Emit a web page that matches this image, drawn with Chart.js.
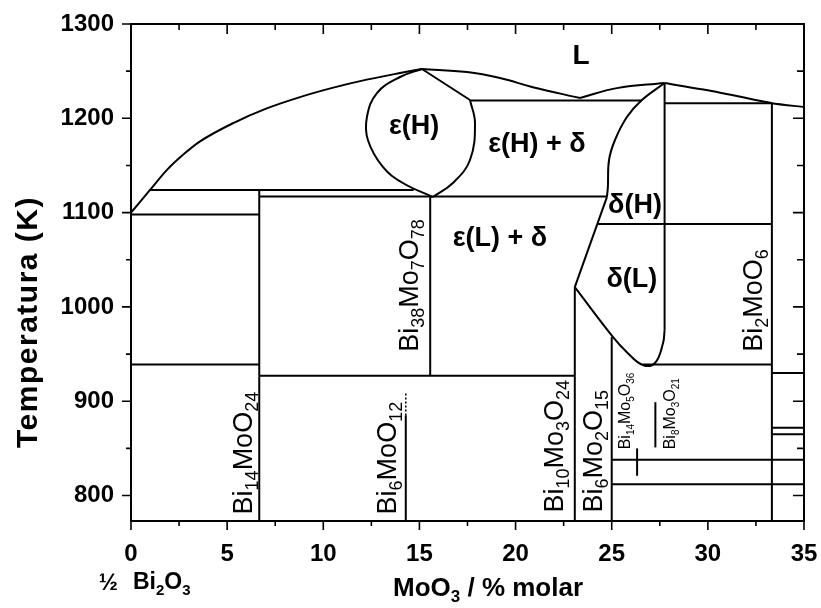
<!DOCTYPE html>
<html>
<head>
<meta charset="utf-8">
<title>Diagrama de fases Bi2O3 - MoO3</title>
<script src="https://cdn.jsdelivr.net/npm/chart.js@4.4.1/dist/chart.umd.min.js"></script>
<style>
  html, body { margin: 0; padding: 0; background: #fff; }
</style>
</head>
<body>
<canvas id="phase" width="821" height="608"></canvas>
<script>
// axis ticks
const xTicks = [0, 5, 10, 15, 20, 25, 30, 35];
const xMinor = [2.5, 7.5, 12.5, 17.5, 22.5, 27.5, 32.5];
const yTicks = [800, 900, 1000, 1100, 1200, 1300];
const yMinor = [850, 950, 1050, 1150, 1250];

// liquidus (x = % MoO3, y = K)
const liquidusLeft = [[0, 1100], [0.99, 1124], [1.86, 1145], [2.72, 1161.5], [3.59, 1175.5], [5.32, 1195], [7.06, 1210.5], [8.79, 1222.5], [10.52, 1232.5], [12.26, 1241], [13.99, 1248], [15.13, 1252.3]];
const liquidusMid = [[15.13, 1252.3], [17.47, 1249], [19.19, 1242.7], [20.9, 1233], [23.35, 1221.5]];
const liquidusRise = [[23.35, 1221.5], [25.27, 1232], [27.75, 1237.4]];
const liquidusFall = [[27.75, 1237.4], [30.47, 1228], [33.33, 1216], [35, 1212]];

// epsilon(H) field
const epsLeft = [[15.13, 1252.3], [13.99, 1243.8], [12.79, 1226.8], [12.27, 1201.4], [12.32, 1177], [13.1, 1148.4], [14.14, 1131.4], [15.7, 1116.5]];
const epsRightTop = [[15.13, 1252.3], [17.63, 1219.4]];
const epsRight = [[17.63, 1219.4], [17.89, 1195], [17.63, 1155.8], [16.74, 1131.4], [15.7, 1116.5]];

// delta field
const deltaLeft = [[27.75, 1237.4], [26.57, 1219.4], [25.79, 1201.4], [25.17, 1177], [24.86, 1155.8], [24.8, 1127], [24.75, 1116.5]];
const deltaEdge = [[24.75, 1116.5], [23.08, 1021]];
const deltaLower = [[23.08, 1021], [25.07, 968], [25.79, 952], [26.62, 938.4], [27.25, 940.5], [27.67, 961.7], [27.75, 975.5]];

// horizontal lines: [T, x from, x to]
const isotherms = [
  [1124, 0.99, 14.7],
  [1117, 6.67, 24.75],
  [1098, 0, 6.67],
  [939, 0, 6.67],
  [927, 6.67, 23.08],
  [1219, 17.63, 26.57],
  [1088, 24.25, 33.33],
  [1216, 27.75, 33.33],
  [939, 26.62, 33.33],
  [838, 25, 35],
  [812, 25, 35],
  [930, 33.33, 35],
  [872, 33.33, 35],
  [865, 33.33, 35]
];

// vertical lines: [x, T from, T to]
const compounds = [
  [6.67, 773, 1124],
  [14.29, 773, 885],
  [15.56, 927, 1117],
  [23.08, 773, 1021],
  [25, 773, 968],
  [26.32, 821, 850],
  [27.27, 851, 899],
  [27.75, 975.5, 1237.4],
  [33.33, 773, 1216]
];
const dottedTop = [[14.29, 885], [14.29, 910]];

const FONT = '"Liberation Sans", Arial, sans-serif';

const toPts = arr => arr.map(p => ({ x: p[0], y: p[1] }));
const line = (pts, extra) => Object.assign({
  data: pts, showLine: true, pointRadius: 0, borderColor: '#000',
  borderWidth: 2, fill: false, tension: 0
}, extra || {});

const datasets = [
  line(toPts(liquidusLeft), { cubicInterpolationMode: 'monotone' }),
  line(toPts(liquidusMid), { tension: 0.4 }),
  line(toPts(liquidusRise), { tension: 0.4 }),
  line(toPts(liquidusFall), { tension: 0.2 }),
  line(toPts(epsLeft), { tension: 0.4 }),
  line(toPts(epsRightTop)),
  line(toPts(epsRight), { tension: 0.4 }),
  line(toPts(deltaLeft), { tension: 0.4 }),
  line(toPts(deltaEdge)),
  line(toPts(deltaLower), { tension: 0.4 }),
  line(toPts(dottedTop), { borderDash: [2, 2], borderWidth: 1.5 })
];
isotherms.forEach(h => datasets.push(line([{ x: h[1], y: h[0] }, { x: h[2], y: h[0] }])));
compounds.forEach(v => datasets.push(line([{ x: v[0], y: v[1] }, { x: v[0], y: v[2] }])));

// field names, centred
const fieldLabels = [
  { text: 'L', x: 23.4, y: 1266 },
  { text: 'ε(H)', x: 14.72, y: 1191 },
  { text: 'ε(H) + δ', x: 21.11, y: 1172 },
  { text: 'ε(L) + δ', x: 19.19, y: 1073 },
  { text: 'δ(H)', x: 26.21, y: 1108 },
  { text: 'δ(L)', x: 26.05, y: 1029 }
];

// compound names, written upwards from (x, y)
const compoundLabels = [
  { text: 'Bi_{14}MoO_{24}', x: 6.29, y: 780, size: 27 },
  { text: 'Bi_{6}MoO_{12}', x: 13.78, y: 780, size: 27 },
  { text: 'Bi_{38}Mo_{7}O_{78}', x: 14.92, y: 952.5, size: 27 },
  { text: 'Bi_{10}Mo_{3}O_{24}', x: 22.46, y: 782, size: 27 },
  { text: 'Bi_{6}Mo_{2}O_{15}', x: 24.49, y: 782, size: 27 },
  { text: 'Bi_{14}Mo_{5}O_{36}', x: 25.95, y: 849, size: 16 },
  { text: 'Bi_{8}Mo_{3}O_{21}', x: 28.29, y: 849, size: 16 },
  { text: 'Bi_{2}MoO_{6}', x: 32.81, y: 952.5, size: 27 }
];

// text with _{..} subscripts
function richParts(text) {
  return text.split(/(_\{[^}]*\})/).filter(Boolean).map(p =>
    p.startsWith('_{') ? { t: p.slice(2, -1), sub: true } : { t: p, sub: false });
}
function drawRich(ctx, text, x, y, size, weight, angle) {
  ctx.save();
  ctx.translate(x, y);
  ctx.rotate(angle || 0);
  ctx.textAlign = 'left';
  ctx.textBaseline = 'alphabetic';
  ctx.fillStyle = '#000';
  let cx = 0;
  richParts(text).forEach(p => {
    ctx.font = `${weight} ${p.sub ? Math.round(size * 0.65) : size}px ${FONT}`;
    ctx.fillText(p.t, cx, p.sub ? size * 0.24 : 0);
    cx += ctx.measureText(p.t).width;
  });
  ctx.restore();
}

// frame, tick marks and all annotation text
const decorations = {
  id: 'decorations',
  afterDraw(chart) {
    const { ctx, chartArea: a, scales: { x, y } } = chart;
    ctx.save();
    ctx.strokeStyle = '#000';
    ctx.lineWidth = 2;
    ctx.strokeRect(a.left, a.top, a.right - a.left, a.bottom - a.top);

    ctx.lineWidth = 1.6;
    ctx.beginPath();
    const xMark = (v, outLen, inLen) => {
      const px = x.getPixelForValue(v);
      ctx.moveTo(px, a.bottom); ctx.lineTo(px, a.bottom + outLen);
      ctx.moveTo(px, a.top); ctx.lineTo(px, a.top + inLen);
    };
    const yMark = (v, outLen, inLen) => {
      const py = y.getPixelForValue(v);
      ctx.moveTo(a.left, py); ctx.lineTo(a.left - outLen, py);
      ctx.moveTo(a.right, py); ctx.lineTo(a.right - inLen, py);
    };
    xTicks.forEach(v => xMark(v, 9, 10));
    xMinor.forEach(v => xMark(v, 5, 6));
    yTicks.forEach(v => yMark(v, 9, 11));
    yMinor.forEach(v => yMark(v, 5, 7));
    ctx.stroke();

    ctx.fillStyle = '#000';
    ctx.textAlign = 'center';
    ctx.textBaseline = 'middle';
    fieldLabels.forEach(l => {
      ctx.font = l.text === 'L' ? `bold 28px ${FONT}` : `bold 27px ${FONT}`;
      ctx.fillText(l.text, x.getPixelForValue(l.x), y.getPixelForValue(l.y));
    });

    compoundLabels.forEach(l => {
      drawRich(ctx, l.text, x.getPixelForValue(l.x), y.getPixelForValue(l.y), l.size, 'normal', -Math.PI / 2);
    });

    // axis titles
    ctx.save();
    ctx.translate(29, 322);
    ctx.rotate(-Math.PI / 2);
    ctx.textAlign = 'center';
    ctx.textBaseline = 'middle';
    ctx.font = `bold 30px ${FONT}`;
    ctx.letterSpacing = '1.5px';
    ctx.fillText('Temperatura (K)', 0, 0);
    ctx.restore();

    drawRich(ctx, 'MoO_{3} / % molar', 393, 596, 26, 'bold', 0);
    ctx.textAlign = 'right';
    ctx.textBaseline = 'alphabetic';
    ctx.font = `bold 23px ${FONT}`;
    ctx.fillText('½', 118, 590);
    drawRich(ctx, 'Bi_{2}O_{3}', 133, 589, 23, 'bold', 0);
    ctx.restore();
  }
};

const tickFont = { family: FONT, size: 24, weight: 'bold' };

new Chart(document.getElementById('phase'), {
  type: 'scatter',
  data: { datasets },
  options: {
    responsive: false,
    animation: false,
    events: [],
    layout: { padding: { top: 24, right: 17, left: 0, bottom: 0 } },
    plugins: { legend: { display: false }, tooltip: { enabled: false } },
    scales: {
      x: {
        type: 'linear', min: 0, max: 35,
        grid: { display: false }, border: { display: false },
        afterBuildTicks: s => { s.ticks = xTicks.map(v => ({ value: v })); },
        afterFit: s => { s.height = 87; s.paddingLeft = 0; s.paddingRight = 0; },
        ticks: { font: tickFont, color: '#000', padding: 11, maxRotation: 0, autoSkip: false, callback: v => String(v) }
      },
      y: {
        type: 'linear', min: 773, max: 1300,
        grid: { display: false }, border: { display: false },
        afterBuildTicks: s => { s.ticks = yTicks.map(v => ({ value: v })); },
        afterFit: s => { s.width = 131; s.paddingTop = 0; s.paddingBottom = 0; },
        ticks: { font: tickFont, color: '#000', padding: 9, autoSkip: false, callback: v => String(v) }
      }
    }
  },
  plugins: [decorations]
});
</script>
</body>
</html>
